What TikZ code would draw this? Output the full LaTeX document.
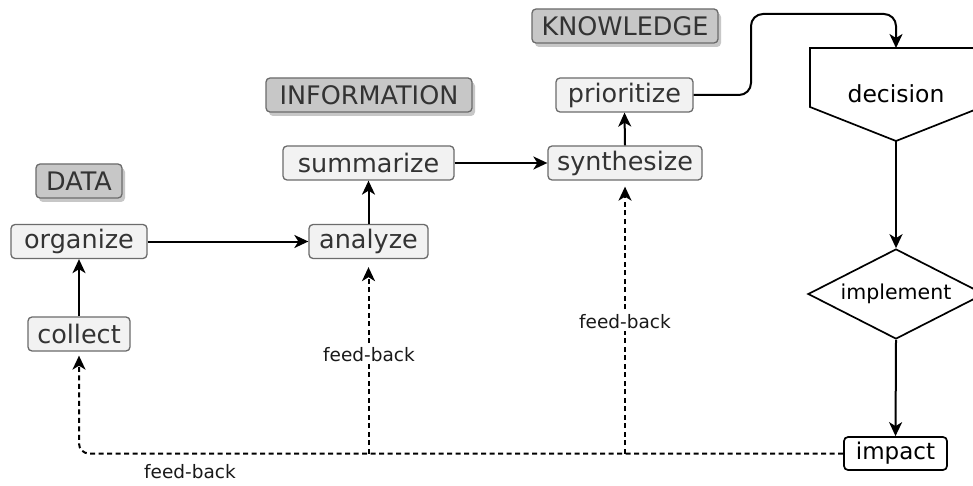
\documentclass[tikz,border=0pt]{standalone}
\usepackage{fontspec}
\setmainfont{DejaVu Sans}
\usetikzlibrary{arrows.meta,shadows,shapes.geometric}
\begin{document}
\begin{tikzpicture}[x=1pt,y=-1pt,
  stepbox/.style={draw=black!58, fill=black!5, rounded corners=4pt, line width=1.3pt,
    text=black!80, font=\fontsize{25.5}{29}\selectfont, inner sep=0pt, minimum height=34pt},
  header/.style={stepbox, fill=black!22,
    drop shadow={shadow xshift=3pt, shadow yshift=-4pt, fill=black!22, opacity=1}},
  flow/.style={line width=2pt, -{Stealth[length=14pt,width=13pt,inset=4pt]}},
  fb/.style={flow, dash pattern=on 5pt off 3.5pt},
  fblabel/.style={font=\fontsize{18.5}{21}\selectfont, text=black!90, fill=white, inner sep=2pt},
  outline/.style={draw=black, line width=1.7pt, fill=white}
]
\useasboundingbox (0,0) rectangle (973,486);
\clip (0,0) rectangle (973,486);
\fill[white] (0,0) rectangle (973,486);

% stage headers
\node[header, minimum width=86pt]  (hdata) at (79,181)  {DATA};
\node[header, minimum width=206pt] (hinfo) at (369,95)  {INFORMATION};
\node[header, minimum width=186pt] (hknow) at (625,26)  {KNOWLEDGE};

% process steps
\node[stepbox, minimum width=136pt] (organize)   at (79,241.5)  {organize};
\node[stepbox, minimum width=102pt] (collect)    at (79,334)    {collect};
\node[stepbox, minimum width=119pt] (analyze)    at (368.5,241.5) {analyze};
\node[stepbox, minimum width=171pt] (summarize)  at (368.5,163) {summarize};
\node[stepbox, minimum width=154pt] (synthesize) at (625,163)   {synthesize};
\node[stepbox, minimum width=137pt] (prioritize) at (624.5,95)  {prioritize};

% decision (pentagon pointing down)
\draw[outline] (810,48) -- (982,48) -- (982,107) -- (896,141) -- (810,107) -- cycle;
\node[font=\fontsize{23.5}{26}\selectfont] (decision) at (896,94) {decision};
\coordinate (dectop) at (896,48);
\coordinate (decbot) at (896,141);

% implement (diamond)
\node[diamond, outline, aspect=1.956, minimum width=176pt, minimum height=90pt, inner sep=0pt,
  font=\fontsize{20.5}{23}\selectfont] (implement) at (896,294) {implement};

% impact
\node[draw=black, fill=white, rounded corners=4pt, line width=1.7pt, inner sep=0pt,
  minimum width=103pt, minimum height=33pt, font=\fontsize{23}{26}\selectfont]
  (impact) at (895.5,453.5) {impact};

% main flow
\draw[flow] (collect.north) -- (organize.south);
\draw[flow] (organize.east) -- (analyze.west);
\draw[flow] (analyze.north) -- (summarize.south);
\draw[flow] (summarize.east) -- (synthesize.west);
\draw[flow] (synthesize.north) -- (prioritize.south);
\draw[flow, rounded corners=12pt] (prioritize.east) -- (751,95) -- (751,14) -- (896,14) -- (dectop);
\draw[flow] (decbot) -- (implement.north);
\draw[flow] (implement.south) -- (impact.north);

% feed-back loops
\draw[fb, rounded corners=10pt, shorten >=4pt] (impact.west) -- (collect.south |- impact.west) -- (collect.south);
\draw[fb, shorten >=8pt] (analyze.south |- impact.west) -- (analyze.south);
\draw[fb, shorten >=6pt] (synthesize.south |- impact.west) -- (synthesize.south);

\node[fblabel] (fb1) at (369,355) {feed-back};
\node[fblabel] (fb2) at (625,322) {feed-back};
\node[fblabel] (fb3) at (190,472) {feed-back};
\end{tikzpicture}
\end{document}
